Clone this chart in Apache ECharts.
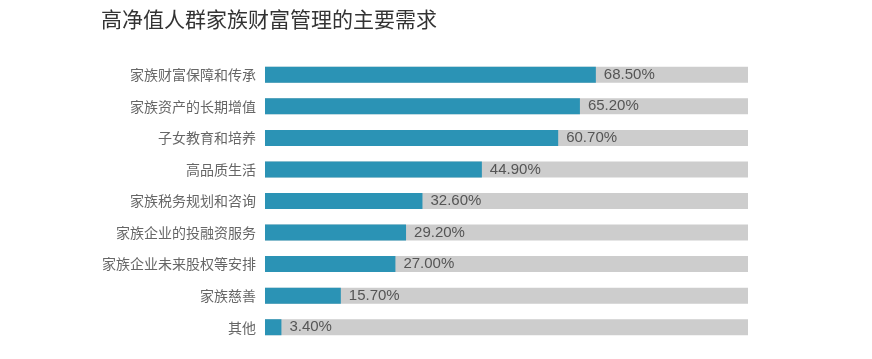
<!DOCTYPE html>
<html><head><meta charset="utf-8">
<script src="https://cdn.jsdelivr.net/npm/echarts@6/dist/echarts.min.js"></script>
<style>html,body{margin:0;padding:0;background:#fff}#c{width:872px;height:359px}</style>
</head><body><div id="c"></div>
<script>
const categories = ['家族财富保障和传承','家族资产的长期增值','子女教育和培养','高品质生活','家族税务规划和咨询','家族企业的投融资服务','家族企业未来股权等安排','家族慈善','其他'];
const values = [68.5, 65.2, 60.7, 44.9, 32.6, 29.2, 27.0, 15.7, 3.4];
const titleText = '高净值人群家族财富管理的主要需求';

const chart = echarts.init(document.getElementById('c'));
chart.setOption({
  animation: false,
  backgroundColor: '#fff',
  title: {
    text: titleText, left: 96, top: 4,
    textStyle: {fontSize: 21, fontWeight: 'normal', color: '#333', fontFamily: 'Noto Sans CJK SC'}
  },
  grid: {left: 265, right: 124, top: 59, bottom: 16, containLabel: false},
  xAxis: {type: 'value', min: 0, max: 100, show: false},
  yAxis: {
    type: 'category', data: categories, inverse: true,
    axisLine: {show: false}, axisTick: {show: false}, splitLine: {show: false},
    axisLabel: {margin: 9, fontSize: 14, color: '#666', fontFamily: 'Noto Sans CJK SC'}
  },
  series: [{
    type: 'bar', data: values, barWidth: 16,
    itemStyle: {color: '#2b93b5'},
    showBackground: true,
    backgroundStyle: {color: '#cdcdcd'},
    label: {
      show: true, position: 'right', distance: 8,
      formatter: p => p.value.toFixed(2) + '%',
      fontSize: 15, color: '#555', fontFamily: 'Liberation Sans'
    }
  }]
});
</script></body></html>
